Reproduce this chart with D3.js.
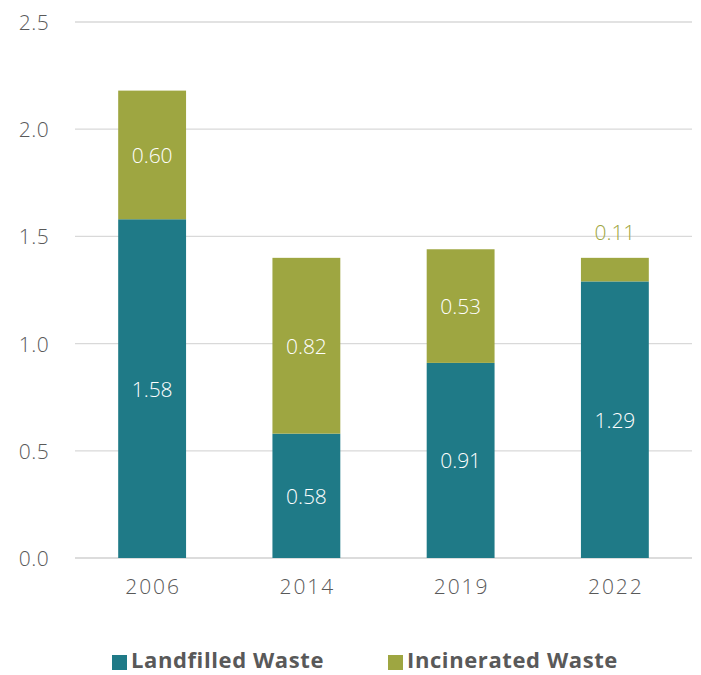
<!DOCTYPE html>
<html>
<head>
<meta charset="utf-8">
<script src="https://cdn.jsdelivr.net/npm/d3@7/dist/d3.min.js"></script>
<style>
  html, body { margin: 0; padding: 0; background: #fff; }
  svg text { font-family: "Open Sans", Lato, sans-serif; }
</style>
</head>
<body>
<svg id="chart" width="701" height="675"></svg>
<script>
const years = ["2006", "2014", "2019", "2022"];
const landfilled = [1.58, 0.58, 0.91, 1.29];
const incinerated = [0.60, 0.82, 0.53, 0.11];
const yTicks = [0, 0.5, 1.0, 1.5, 2.0, 2.5];
const seriesNames = ["Landfilled Waste", "Incinerated Waste"];
const colors = ["#1f7a87", "#9ea641"];

(function () {
  const svg = d3.select("#chart");
  const plotLeft = 75, plotRight = 692, plotTop = 22, plotBottom = 558;

  const x = d3.scaleBand().domain(years).range([plotLeft, plotRight])
    .paddingInner(0.56).paddingOuter(0.28);
  const y = d3.scaleLinear().domain([0, 2.5]).range([plotBottom, plotTop]);

  // gridlines
  svg.append("g").selectAll("line").data(yTicks).join("line")
    .attr("x1", plotLeft).attr("x2", plotRight)
    .attr("y1", d => y(d)).attr("y2", d => y(d))
    .attr("stroke", d => d === 0 ? "#d0d0d0" : "#d9d9d9")
    .attr("stroke-width", 1.3);

  // y axis labels
  svg.append("g").selectAll("text").data(yTicks).join("text")
    .attr("x", 34).attr("y", d => y(d))
    .attr("text-anchor", "middle").attr("dominant-baseline", "central")
    .attr("fill", "#595959").attr("font-size", 21).attr("font-weight", 300)
    .attr("letter-spacing", 0.5)
    .text(d => d3.format(".1f")(d));

  // x axis labels
  svg.append("g").selectAll("text").data(years).join("text")
    .attr("x", d => x(d) + x.bandwidth() / 2 + 1).attr("y", 594)
    .attr("text-anchor", "middle")
    .attr("fill", "#595959").attr("font-size", 21).attr("font-weight", 300)
    .attr("letter-spacing", 2)
    .text(d => d);

  const rows = years.map((yr, i) => ({ year: yr, landfilled: landfilled[i], incinerated: incinerated[i] }));
  const stack = d3.stack().keys(["landfilled", "incinerated"])(rows);

  const layers = svg.append("g").selectAll("g").data(stack).join("g")
    .attr("fill", (d, i) => colors[i]);

  layers.selectAll("rect").data(d => d).join("rect")
    .attr("x", d => x(d.data.year))
    .attr("width", x.bandwidth())
    .attr("y", d => y(d[1]))
    .attr("height", d => y(d[0]) - y(d[1]));

  // value labels: inside the segment, or above it when the segment is thin
  stack.forEach((layer, li) => {
    layer.forEach(d => {
      const v = d[1] - d[0];
      const h = y(d[0]) - y(d[1]);
      const inside = h > 30;
      svg.append("text")
        .attr("x", x(d.data.year) + x.bandwidth() / 2)
        .attr("y", inside ? (y(d[0]) + y(d[1])) / 2 : y(d[1]) - 26)
        .attr("text-anchor", "middle").attr("dominant-baseline", "central")
        .attr("font-size", 21).attr("font-weight", 300)
        .attr("fill", inside ? "#ffffff" : colors[li])
        .text(d3.format(".2f")(v));
    });
  });

  // legend
  const legend = svg.append("g");
  const legendX = [112, 388];
  seriesNames.forEach((name, i) => {
    legend.append("rect").attr("x", legendX[i]).attr("y", 655)
      .attr("width", 15).attr("height", 15).attr("fill", colors[i]);
    legend.append("text").attr("x", legendX[i] + 19).attr("y", 668)
      .attr("font-size", 22).attr("letter-spacing", 0.6)
      .attr("font-weight", "bold").attr("fill", "#595959")
      .text(name);
  });
})();
</script>
</body>
</html>
